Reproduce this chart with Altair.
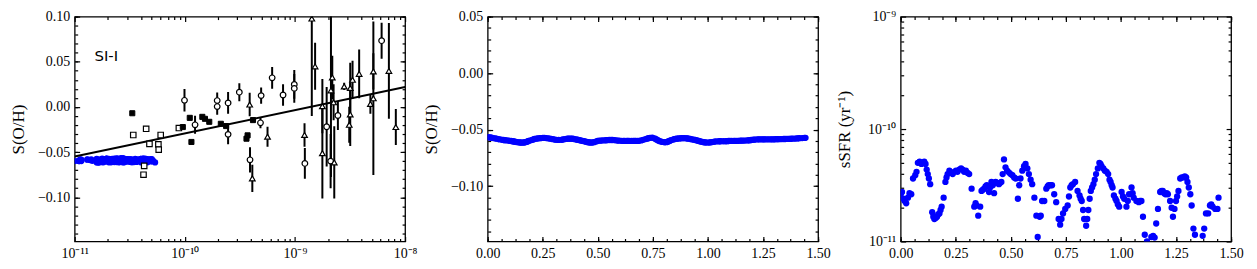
import altair as alt
import pandas as pd

# ---------------- model time series ----------------
T = [0.000, 0.006, 0.012, 0.018, 0.025, 0.033, 0.040, 0.048, 0.056, 0.066,
     0.072, 0.078, 0.086, 0.094, 0.100, 0.107, 0.113, 0.118, 0.123, 0.128,
     0.134, 0.143, 0.148, 0.153, 0.159, 0.165, 0.170, 0.176, 0.181, 0.186,
     0.195, 0.203, 0.208, 0.213, 0.221, 0.228, 0.236, 0.243, 0.251, 0.258,
     0.266, 0.274, 0.281, 0.288, 0.296, 0.304, 0.311, 0.322, 0.334, 0.340,
     0.344, 0.352, 0.361, 0.367, 0.373, 0.379, 0.385, 0.391, 0.401, 0.406,
     0.412, 0.418, 0.424, 0.431, 0.438, 0.446, 0.451, 0.457, 0.463, 0.469,
     0.476, 0.483, 0.491, 0.499, 0.507, 0.515, 0.522, 0.532, 0.538, 0.544,
     0.552, 0.560, 0.567, 0.575, 0.582, 0.590, 0.597, 0.607, 0.616, 0.622,
     0.631, 0.636, 0.642, 0.652, 0.661, 0.667, 0.672, 0.680, 0.687, 0.697,
     0.706, 0.717, 0.724, 0.730, 0.737, 0.747, 0.758, 0.764, 0.770, 0.776,
     0.782, 0.792, 0.803, 0.812, 0.817, 0.822, 0.828, 0.833, 0.842, 0.847,
     0.852, 0.858, 0.863, 0.869, 0.875, 0.881, 0.887, 0.895, 0.902, 0.907,
     0.912, 0.920, 0.927, 0.935, 0.942, 0.948, 0.953, 0.958, 0.962, 0.968,
     0.975, 0.980, 0.986, 0.992, 1.003, 1.009, 1.015, 1.025, 1.031, 1.037,
     1.048, 1.053, 1.058, 1.070, 1.081, 1.087, 1.093, 1.100, 1.108, 1.118,
     1.124, 1.131, 1.138, 1.146, 1.153, 1.160, 1.168, 1.178, 1.184, 1.190,
     1.196, 1.202, 1.208, 1.213, 1.223, 1.230, 1.236, 1.243, 1.250, 1.255,
     1.261, 1.269, 1.276, 1.284, 1.290, 1.296, 1.302, 1.308, 1.315, 1.321,
     1.329, 1.336, 1.344, 1.351, 1.358, 1.365, 1.371, 1.378, 1.386, 1.396,
     1.404, 1.410, 1.416, 1.428, 1.438, 1.443]

LOG_SSFR = [-10.58, -10.56, -10.62, -10.64, -10.66, -10.61, -10.57, -10.58, -10.44, -10.41,
            -10.38, -10.30, -10.29, -10.31, -10.30, -10.29, -10.31, -10.36, -10.40, -10.44,
            -10.49, -10.74, -10.78, -10.80, -10.79, -10.78, -10.76, -10.75, -10.72, -10.69,
            -10.61, -10.47, -10.43, -10.40, -10.37, -10.39, -10.40, -10.38, -10.37, -10.38,
            -10.36, -10.35, -10.36, -10.38, -10.37, -10.39, -10.40, -10.53, -10.69, -10.66,
            -10.68, -10.77, -10.69, -10.55, -10.54, -10.53, -10.51, -10.50, -10.56, -10.52,
            -10.47, -10.50, -10.57, -10.47, -10.48, -10.49, -10.48, -10.47, -10.40, -10.27,
            -10.34, -10.37, -10.385, -10.40, -10.41, -10.43, -10.44, -10.62, -10.50, -10.44,
            -10.37, -10.33, -10.31, -10.35, -10.40, -10.45, -10.49, -10.61, -10.77, -10.96,
            -10.78, -10.77, -10.64, -10.64, -10.53, -10.51, -10.50, -10.50, -10.50, -10.58,
            -10.65, -10.80, -10.85, -10.80, -10.75, -10.71, -10.68, -10.60, -10.52, -10.50,
            -10.49, -10.47, -10.55, -10.59, -10.62, -10.64, -10.72, -10.80, -10.86, -10.80,
            -10.72, -10.62, -10.55, -10.52, -10.49, -10.45, -10.40, -10.35, -10.30, -10.31,
            -10.33, -10.35, -10.37, -10.38, -10.40, -10.45, -10.47, -10.50, -10.52, -10.59,
            -10.62, -10.64, -10.67, -10.69, -10.56, -10.60, -10.62, -10.69, -10.64, -10.58,
            -10.52, -10.57, -10.61, -10.64, -10.65, -10.64, -10.64, -10.78, -10.94, -11.00,
            -11.04, -11.06, -10.96, -10.95, -10.965, -10.84, -10.71, -10.56, -10.55, -10.55,
            -10.57, -10.58, -10.57, -10.58, -10.64, -10.70, -10.78, -10.71, -10.64, -10.60,
            -10.55, -10.44, -10.43, -10.43, -10.42, -10.43, -10.47, -10.52, -10.58, -10.68,
            -10.885, -10.94, -11.03, -11.08, -11.08, -11.04, -10.95, -10.885, -10.75, -10.75,
            -10.68, -10.67, -10.69, -10.71, -10.71, -10.61]

SOH = [-0.0566, -0.0568, -0.0570, -0.0572, -0.0575, -0.0577, -0.0580, -0.0584, -0.0587, -0.0590,
       -0.0592, -0.0594, -0.0595, -0.0597, -0.0599, -0.0601, -0.0603, -0.0605, -0.0607, -0.0609,
       -0.0611, -0.0613, -0.0614, -0.0615, -0.0615, -0.0614, -0.0612, -0.0609, -0.0605, -0.0601,
       -0.0595, -0.0590, -0.0586, -0.0583, -0.0580, -0.0578, -0.0576, -0.0575, -0.0574, -0.0574,
       -0.0575, -0.0577, -0.0579, -0.0582, -0.0585, -0.0588, -0.0590, -0.0591, -0.0590, -0.0588,
       -0.0586, -0.0584, -0.0581, -0.0580, -0.0580, -0.0580, -0.0581, -0.0583, -0.0587, -0.0589,
       -0.0591, -0.0594, -0.0597, -0.0600, -0.0603, -0.0607, -0.0610, -0.0612, -0.0614, -0.0615,
       -0.0614, -0.0611, -0.0606, -0.0601, -0.0598, -0.0597, -0.0596, -0.0595, -0.0594, -0.0593,
       -0.0592, -0.0592, -0.0592, -0.0593, -0.0595, -0.0597, -0.0598, -0.0599, -0.0600, -0.0600,
       -0.0600, -0.0600, -0.0600, -0.0600, -0.0600, -0.0600, -0.0600, -0.0600, -0.0599, -0.0596,
       -0.0590, -0.0584, -0.0580, -0.0576, -0.0573, -0.0572, -0.0578, -0.0585, -0.0592, -0.0598,
       -0.0603, -0.0609, -0.0612, -0.0611, -0.0607, -0.0603, -0.0598, -0.0593, -0.0588, -0.0585,
       -0.0582, -0.0580, -0.0579, -0.0578, -0.0577, -0.0576, -0.0576, -0.0576, -0.0577, -0.0578,
       -0.0580, -0.0583, -0.0586, -0.0589, -0.0592, -0.0595, -0.0597, -0.0600, -0.0603, -0.0606,
       -0.0609, -0.0611, -0.0613, -0.0614, -0.0615, -0.0613, -0.0611, -0.0608, -0.0606, -0.0605,
       -0.0604, -0.0603, -0.0603, -0.0603, -0.0603, -0.0602, -0.0601, -0.0600, -0.0600, -0.0600,
       -0.0600, -0.0599, -0.0599, -0.0598, -0.0598, -0.0597, -0.0597, -0.0596, -0.0595, -0.0594,
       -0.0592, -0.0590, -0.0589, -0.0588, -0.0587, -0.0586, -0.0586, -0.0586, -0.0586, -0.0586,
       -0.0586, -0.0586, -0.0586, -0.0586, -0.0586, -0.0586, -0.0586, -0.0585, -0.0585, -0.0585,
       -0.0584, -0.0584, -0.0583, -0.0583, -0.0582, -0.0582, -0.0582, -0.0581, -0.0580, -0.0579,
       -0.0578, -0.0577, -0.0576, -0.0575, -0.0574, -0.0573]

# ---------------- observational data, left panel ----------------
FSQ_LOGX = [-10.477, -10.018, -9.955, -9.940, -9.841, -9.817, -9.778, -9.673, -9.625, -9.440, -9.430, -9.381]
FSQ_Y = [-0.0070, -0.0223, -0.0121, -0.0388, -0.0110, -0.0132, -0.0165, -0.0187, -0.0212, -0.0352, -0.0315, -0.0146]

OSQ_LOGX = [-10.468, -10.351, -10.321, -10.369, -10.375, -10.240, -10.237, -10.219, -10.054]
OSQ_Y = [-0.0311, -0.0242, -0.0410, -0.0652, -0.0751, -0.0414, -0.0473, -0.0311, -0.0234]

CIRC_LOGX = [-10.003, -9.907, -9.706, -9.706, -9.607, -9.607, -9.505, -9.408, -9.307, -9.313,
             -9.207, -9.108, -9.006, -9.006, -8.910, -8.712, -8.676, -8.610, -8.213]
CIRC_Y = [0.0073, -0.0198, 0.0070, 0.0004, 0.0044, -0.0304, 0.0163, -0.0586, 0.0125, -0.0176,
          0.0322, 0.0132, 0.0249, 0.0205, -0.0626, -0.0220, -0.0600, -0.0095, 0.0733]
CIRC_ERR = [0.0125, 0.010, 0.009, 0.009, 0.012, 0.011, 0.010, 0.014, 0.009, 0.006,
            0.012, 0.012, 0.016, 0.016, 0.017, 0.044, 0.030, 0.016, 0.020]

TRI_LOGX = [-9.411, -9.387, -9.249, -8.913, -8.847, -8.817, -8.751, -8.751, -8.673, -8.661,
            -8.649, -8.643, -8.553, -8.498, -8.498, -8.507, -8.477, -8.417, -8.315, -8.288,
            -8.288, -8.147, -8.084]
TRI_Y = [0.0026, -0.0791, -0.0330, -0.0311, 0.0978, 0.0449, 0.0008, -0.0513, 0.0183, 0.0326,
         0.0051, -0.0615, 0.0227, 0.0209, -0.0084, -0.0198, 0.0300, 0.0366, 0.0033, 0.0095,
         0.0393, 0.0399, -0.0223]
TRI_ERR = [0.013, 0.015, 0.011, 0.013, 0.108, 0.026, 0.030, 0.050, 0.096, 0.024,
           0.020, 0.040, 0.004, 0.028, 0.035, 0.020, 0.021, 0.027, 0.011, 0.085,
           0.020, 0.053, 0.020]

FIT_LOGX = [-11.0, -8.0]
FIT_Y = [-0.055, 0.022]

NOTE_TEXT = ["SI-I"]
NOTE_LOGX = [-10.82]
NOTE_Y = [0.056]

# ---------------- axes ----------------
X1_MAJOR = [1e-11, 1e-10, 1e-9, 1e-8]
X1_LABELS = ["10\u207b\u00b9\u00b9", "10\u207b\u00b9\u2070", "10\u207b\u2079", "10\u207b\u2078"]
X1_MINOR = [m * 10.0 ** e for e in (-11, -10, -9) for m in range(2, 10)]
Y1_MAJOR = [-0.10, -0.05, 0.0, 0.05, 0.10]
Y1_MINOR = [round(-0.14 + 0.01 * i, 2) for i in range(25)]

X2_MAJOR = [0.0, 0.25, 0.5, 0.75, 1.0, 1.25, 1.5]
X2_MINOR = [round(0.0625 * i, 4) for i in range(25)]
Y2_MAJOR = [-0.10, -0.05, 0.0, 0.05]
Y2_MINOR = [round(-0.14 + 0.01 * i, 2) for i in range(20)]

Y3_MAJOR = [1e-11, 1e-10, 1e-9]
Y3_LABELS = ["10\u207b\u00b9\u00b9", "10\u207b\u00b9\u2070", "10\u207b\u2079"]
Y3_MINOR = [m * 10.0 ** e for e in (-11, -10) for m in range(2, 10)]

YLAB_SOH = "S(O/H)"
YLAB_SSFR = "sSFR (yr\u207b\u00b9)"

W, H = 332, 226
MAJ, MIN = 5, 3
FONT = "Liberation Serif"
BLUE = "#0000ff"
DOT = 40
LABEL_EXTENT = 38

# ---------------- tables ----------------
ts = pd.DataFrame({"t": T, "ssfr": [10.0 ** v for v in LOG_SSFR], "soh": SOH})
fsq = pd.DataFrame({"x": [10.0 ** v for v in FSQ_LOGX], "y": FSQ_Y})
osq = pd.DataFrame({"x": [10.0 ** v for v in OSQ_LOGX], "y": OSQ_Y})
circ = pd.DataFrame({"x": [10.0 ** v for v in CIRC_LOGX], "y": CIRC_Y, "e": CIRC_ERR})
circ["lo"] = circ["y"] - circ["e"]
circ["hi"] = circ["y"] + circ["e"]
tri = pd.DataFrame({"x": [10.0 ** v for v in TRI_LOGX], "y": TRI_Y, "e": TRI_ERR})
tri["lo"] = tri["y"] - tri["e"]
tri["hi"] = tri["y"] + tri["e"]
fit = pd.DataFrame({"x": [10.0 ** v for v in FIT_LOGX], "y": FIT_Y})
note = pd.DataFrame({"x": [10.0 ** v for v in NOTE_LOGX], "y": NOTE_Y, "txt": NOTE_TEXT})


def label_expr(values, labels):
    expr = "'" + labels[-1] + "'"
    for v, l in reversed(list(zip(values[:-1], labels[:-1]))):
        expr = f"datum.value < {v * 3:g} ? '{l}' : ({expr})"
    return expr


def label_axis_x(values, lexpr=None, fmt=None):
    kw = dict(orient="bottom", values=values, ticks=False, tickSize=0, domain=False,
              grid=False, labelPadding=5, labelFlush=False, labelOverlap=False, title=None)
    if lexpr:
        kw["labelExpr"] = lexpr
    if fmt:
        kw["format"] = fmt
    return alt.Axis(**kw)


def label_axis_y(values, title, lexpr=None, fmt=None):
    kw = dict(orient="left", values=values, ticks=False, tickSize=0, domain=False,
              grid=False, labelPadding=5, labelFlush=False, labelOverlap=False,
              minExtent=LABEL_EXTENT, maxExtent=LABEL_EXTENT,
              title=title, titlePadding=9)
    if lexpr:
        kw["labelExpr"] = lexpr
    if fmt:
        kw["format"] = fmt
    return alt.Axis(**kw)


def tick_axis(orient, values, size):
    return alt.Axis(orient=orient, values=values, labels=False, domain=False, grid=False,
                    tickSize=size, offset=-size, title=None, minExtent=0,
                    tickColor="black", tickWidth=1.2)


def tick_layers(df, xf, yf, xs, ys, xmaj, xmin, ymaj, ymin):
    out = []
    for ox, oy, vx, vy, L in [("bottom", "left", xmaj, ymaj, MAJ),
                              ("bottom", "left", xmin, ymin, MIN),
                              ("top", "right", xmaj, ymaj, MAJ),
                              ("top", "right", xmin, ymin, MIN)]:
        out.append(alt.Chart(df).mark_point(opacity=0).encode(
            x=alt.X(xf, type="quantitative", scale=xs, axis=tick_axis(ox, vx, L)),
            y=alt.Y(yf, type="quantitative", scale=ys, axis=tick_axis(oy, vy, L)),
        ))
    return out


# ---------------- panel 1 ----------------
xs1 = alt.Scale(type="log", domain=[1e-11, 1e-8], nice=False)
ys1 = alt.Scale(domain=[-0.149, 0.10], nice=False, zero=False)

blue1 = alt.Chart(ts).mark_circle(size=DOT, color=BLUE, opacity=1, clip=True).encode(
    x=alt.X("ssfr:Q", scale=xs1, axis=label_axis_x(X1_MAJOR, lexpr=label_expr(X1_MAJOR, X1_LABELS))),
    y=alt.Y("soh:Q", scale=ys1, axis=label_axis_y(Y1_MAJOR, YLAB_SOH, fmt=".2f")),
)
fitline = alt.Chart(fit).mark_line(color="black", strokeWidth=2, clip=True).encode(
    x=alt.X("x:Q", scale=xs1, axis=None), y=alt.Y("y:Q", scale=ys1, axis=None))
err_c = alt.Chart(circ).mark_rule(color="black", strokeWidth=2, clip=True).encode(
    x=alt.X("x:Q", scale=xs1, axis=None), y=alt.Y("lo:Q", scale=ys1, axis=None), y2="hi:Q")
err_t = alt.Chart(tri).mark_rule(color="black", strokeWidth=2, clip=True).encode(
    x=alt.X("x:Q", scale=xs1, axis=None), y=alt.Y("lo:Q", scale=ys1, axis=None), y2="hi:Q")
osq_m = alt.Chart(osq).mark_point(shape="square", filled=True, fill="white", stroke="black",
                                  strokeWidth=1.2, size=30, opacity=1, clip=True).encode(
    x=alt.X("x:Q", scale=xs1, axis=None), y=alt.Y("y:Q", scale=ys1, axis=None))
fsq_m = alt.Chart(fsq).mark_point(shape="square", filled=True, fill="black", stroke="black",
                                  strokeWidth=1, size=26, opacity=1, clip=True).encode(
    x=alt.X("x:Q", scale=xs1, axis=None), y=alt.Y("y:Q", scale=ys1, axis=None))
circ_m = alt.Chart(circ).mark_point(shape="circle", filled=True, fill="white", stroke="black",
                                    strokeWidth=1.2, size=32, opacity=1, clip=True).encode(
    x=alt.X("x:Q", scale=xs1, axis=None), y=alt.Y("y:Q", scale=ys1, axis=None))
tri_m = alt.Chart(tri).mark_point(shape="triangle-up", filled=True, fill="white", stroke="black",
                                  strokeWidth=1.2, size=32, opacity=1, clip=True).encode(
    x=alt.X("x:Q", scale=xs1, axis=None), y=alt.Y("y:Q", scale=ys1, axis=None))
note_m = alt.Chart(note).mark_text(font="DejaVu Sans", fontSize=15, align="left",
                                   baseline="middle", color="black").encode(
    x=alt.X("x:Q", scale=xs1, axis=None), y=alt.Y("y:Q", scale=ys1, axis=None), text="txt:N")

p1 = alt.layer(blue1, fitline, err_c, err_t, osq_m, fsq_m, circ_m, tri_m, note_m,
               *tick_layers(ts, "ssfr", "soh", xs1, ys1, X1_MAJOR, X1_MINOR, Y1_MAJOR, Y1_MINOR)
               ).resolve_axis(x="independent", y="independent").properties(width=W, height=H)

# ---------------- panel 2 ----------------
xs2 = alt.Scale(domain=[0, 1.5], nice=False, zero=False)
ys2 = alt.Scale(domain=[-0.149, 0.05], nice=False, zero=False)
blue2 = alt.Chart(ts).mark_circle(size=DOT, color=BLUE, opacity=1, clip=True).encode(
    x=alt.X("t:Q", scale=xs2, axis=label_axis_x(X2_MAJOR, fmt=".2f")),
    y=alt.Y("soh:Q", scale=ys2, axis=label_axis_y(Y2_MAJOR, YLAB_SOH, fmt=".2f")),
)
p2 = alt.layer(blue2, *tick_layers(ts, "t", "soh", xs2, ys2, X2_MAJOR, X2_MINOR, Y2_MAJOR, Y2_MINOR)
               ).resolve_axis(x="independent", y="independent").properties(width=W, height=H)

# ---------------- panel 3 ----------------
ys3 = alt.Scale(type="log", domain=[1e-11, 1e-9], nice=False)
blue3 = alt.Chart(ts).mark_circle(size=DOT, color=BLUE, opacity=1, clip=True).encode(
    x=alt.X("t:Q", scale=xs2, axis=label_axis_x(X2_MAJOR, fmt=".2f")),
    y=alt.Y("ssfr:Q", scale=ys3, axis=label_axis_y(Y3_MAJOR, YLAB_SSFR, lexpr=label_expr(Y3_MAJOR, Y3_LABELS))),
)
p3 = alt.layer(blue3, *tick_layers(ts, "t", "ssfr", xs2, ys3, X2_MAJOR, X2_MINOR, Y3_MAJOR, Y3_MINOR)
               ).resolve_axis(x="independent", y="independent").properties(width=W, height=H)

chart = alt.hconcat(p1, p2, p3, spacing=83, bounds="flush").properties(
    padding={"left": 1, "top": 0, "right": 5, "bottom": 5}
).configure_view(stroke="black", strokeWidth=1.3).configure_axis(
    labelFont=FONT, labelFontSize=14, labelColor="black",
    titleFont=FONT, titleFontSize=17, titleFontWeight="normal", titleColor="black",
)

chart.save("out.html", embed_options={"renderer": "svg", "actions": False})
